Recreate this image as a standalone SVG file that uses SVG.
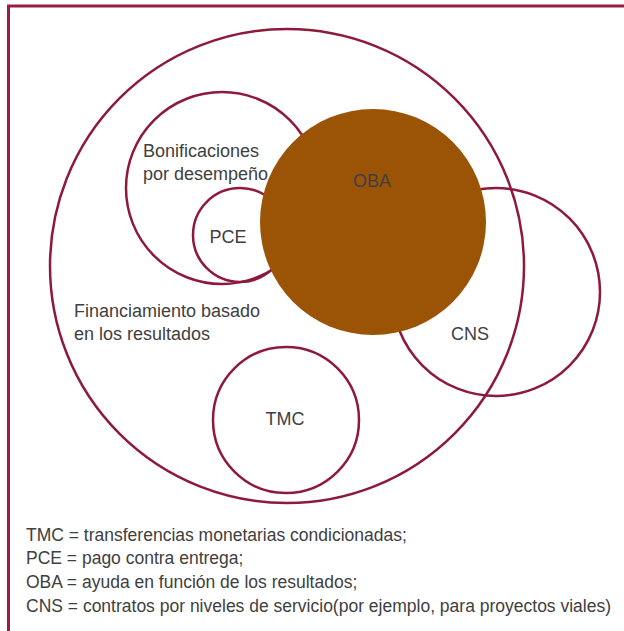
<svg xmlns="http://www.w3.org/2000/svg" width="624" height="631" viewBox="0 0 624 631">
<style>
.ring{fill:none;stroke:#8e1a3b;stroke-width:2.5}
.lbl{font-family:"Liberation Sans",Arial,sans-serif;font-size:18px;fill:#404040}
.leg{font-family:"Liberation Sans",Arial,sans-serif;font-size:17.5px;fill:#404040}
</style>
<rect x="0" y="0" width="624" height="631" fill="#ffffff"/>
<path d="M8.5 631 V6 H624" fill="none" stroke="#9b1c3e" stroke-width="3"/>
<g id="frb">
<circle class="ring" cx="287" cy="266" r="237"/>
<text class="lbl" x="74" y="317">Financiamiento basado</text>
<text class="lbl" x="74" y="340">en los resultados</text>
</g>
<g id="bonificaciones">
<circle class="ring" cx="222" cy="188" r="96"/>
<text class="lbl" x="143" y="157">Bonificaciones</text>
<text class="lbl" x="143" y="180">por desempeño</text>
</g>
<g id="pce">
<circle class="ring" cx="240" cy="235" r="47"/>
<text class="lbl" x="228" y="243" text-anchor="middle">PCE</text>
</g>
<g id="cns">
<circle class="ring" cx="496" cy="292" r="104"/>
<text class="lbl" x="470" y="340" text-anchor="middle">CNS</text>
</g>
<g id="oba">
<circle cx="373" cy="222" r="113" fill="#9b5406"/>
<text class="lbl" x="372" y="187" text-anchor="middle">OBA</text>
</g>
<g id="tmc">
<circle class="ring" cx="286" cy="420" r="73"/>
<text class="lbl" x="285" y="425" text-anchor="middle">TMC</text>
</g>
<g id="legend">
<text class="leg" x="26" y="541">TMC = transferencias monetarias condicionadas;</text>
<text class="leg" x="26" y="564">PCE = pago contra entrega;</text>
<text class="leg" x="26" y="588">OBA = ayuda en función de los resultados;</text>
<text class="leg" x="26" y="612">CNS = contratos por niveles de servicio(por ejemplo, para proyectos viales)</text>
</g>
<g id="connectors"></g>
</svg>
